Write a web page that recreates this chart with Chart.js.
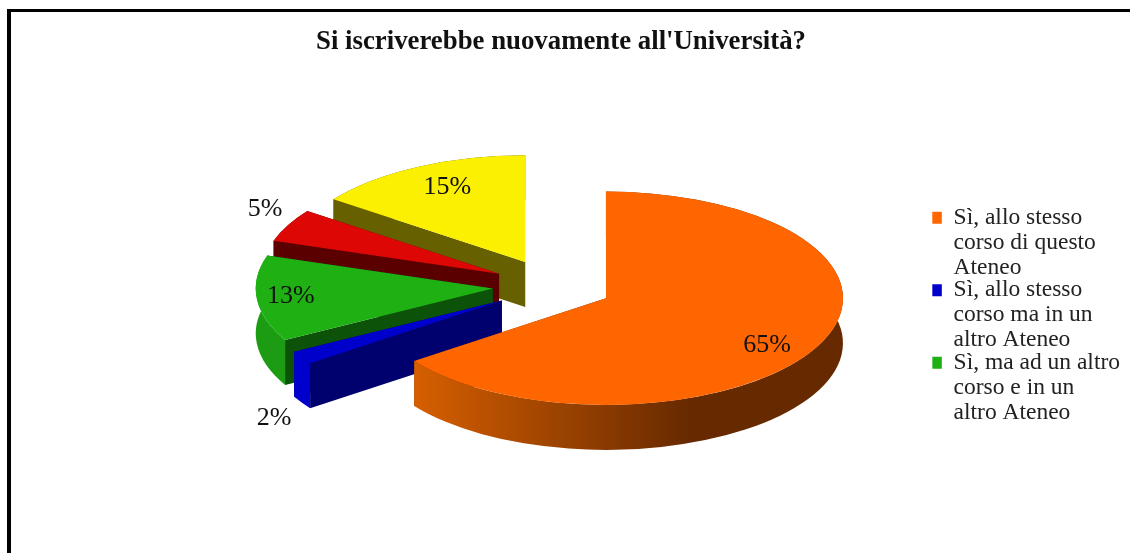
<!DOCTYPE html>
<html><head><meta charset="utf-8">
<style>html,body{margin:0;padding:0;background:#fff;overflow:hidden}canvas{display:block}</style>
<script src="https://cdn.jsdelivr.net/npm/chart.js@4/dist/chart.umd.min.js"></script>
</head><body>
<div style="position:relative;width:1130px;height:553px"><canvas id="c" width="1130" height="553"></canvas></div>
<script>
const titleText = "Si iscriverebbe nuovamente all'Università?";
const categories = [
  ['Sì, allo stesso','corso di questo','Ateneo'],
  ['Sì, allo stesso','corso ma in un','altro Ateneo'],
  ['Sì, ma ad un altro','corso e in un','altro Ateneo'],
  '', ''
];
const shares = [65, 2, 13, 5, 15];
const topColors = ['#ff6600','#0000cc','#1fb014','#dd0806','#fbf000'];
const rimColors = [null,'#0000cc','#1c9c12','#5a0000','#666000'];
const cutColors = ['#662900','#00006e','#0c5209','#5a0000','#666000'];
const labelRadial = [0.81,1.465,0.855,1.157,0.777];
const labelTurn = [5.9,-16.6,0.6,4.4,2];

const K=0.45, CX=552.5, CY=286, EXPLODE=60, DEPTH=45, RADIUS=237;

const pie3d = {
  id:'pie3d',
  beforeDraw(chart){
    const c=chart.ctx; c.save(); c.fillStyle='#fff'; c.fillRect(0,0,chart.width,chart.height);
    c.fillStyle='#000'; c.fillRect(7,9,1123,3); c.fillRect(7,9,4,544); c.restore();
  },
  beforeDatasetsDraw(chart){
    const c=chart.ctx, arcs=chart.getDatasetMeta(0).data, D=DEPTH/K;
    [4,3,2,1,0].forEach(i=>{
      const a=arcs[i], r=a.outerRadius, s=a.startAngle, e=a.endAngle, m=(s+e)/2;
      c.save();
      c.translate(CX,CY); c.scale(1,K); c.translate(-a.x,-a.y);
      c.translate(Math.cos(m)*EXPLODE,Math.sin(m)*EXPLODE);
      const x=a.x,y=a.y;
      c.fillStyle=cutColors[i];
      [s,e].forEach(t=>{c.beginPath();c.moveTo(x,y);c.lineTo(x+r*Math.cos(t),y+r*Math.sin(t));
        c.lineTo(x+r*Math.cos(t),y+D+r*Math.sin(t));c.lineTo(x,y+D);c.closePath();c.fill();});
      let rim=rimColors[i];
      if(!rim){const x0=x+r*Math.cos(e);rim=c.createLinearGradient(x0,0,x0+278,0);
        rim.addColorStop(0,'#d65f00');rim.addColorStop(1,'#662900');}
      c.fillStyle=rim;
      c.beginPath();c.arc(x,y,r,s,e);c.arc(x,y+D,r,e,s,true);c.closePath();c.fill();
      a.draw(c);
      c.restore();
    });
    c.save(); c.font='26px "Liberation Serif"'; c.fillStyle='#111'; c.textAlign='center'; c.textBaseline='middle';
    arcs.forEach((a,i)=>{
      const m=(a.startAngle+a.endAngle)/2, t=m+labelTurn[i]*Math.PI/180, r=a.outerRadius*labelRadial[i];
      const px=CX+Math.cos(m)*EXPLODE+Math.cos(t)*r, py=CY+K*(Math.sin(m)*EXPLODE+Math.sin(t)*r);
      c.fillText(shares[i]+'%',px,py);
    });
    c.restore();
    return false;
  }
};

new Chart(document.getElementById('c'),{
  type:'pie',
  data:{labels:categories,datasets:[{data:shares,backgroundColor:topColors,borderWidth:0}]},
  plugins:[pie3d],
  options:{
    responsive:false,animation:false,radius:RADIUS,
    layout:{padding:{left:-8,right:0,top:0,bottom:0}},
    plugins:{
      tooltip:{enabled:false},
      title:{display:true,text:titleText,color:'#111',font:{family:'"Liberation Serif"',size:26.8,weight:'bold',lineHeight:'24px'},padding:{top:30,bottom:25}},
      legend:{position:'right',align:'center',fullSize:false,
        labels:{boxWidth:12,boxHeight:12,padding:-2.5,color:'#222',
          font:{family:'"Liberation Serif"',size:23.5,lineHeight:'25px'},
          filter:it=>it.text!==''}}
    }
  }
});
</script></body></html>
